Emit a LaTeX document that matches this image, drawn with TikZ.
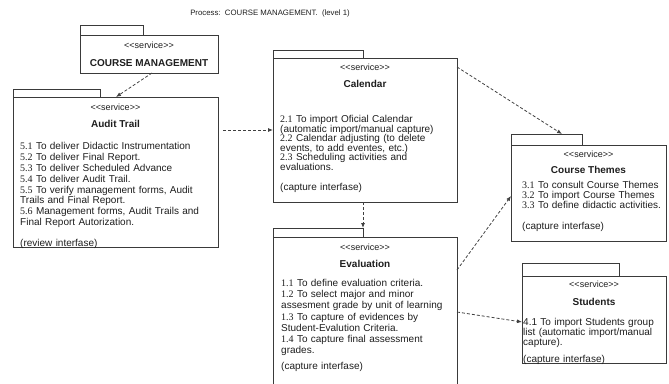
\documentclass[tikz,border=0pt]{standalone}
\usepackage{fontspec}
\setmainfont{Liberation Sans}
\newfontfamily\numf{Liberation Serif}
\usetikzlibrary{arrows.meta,calc}
\definecolor{boxc}{HTML}{3A3A3A}
\definecolor{depc}{HTML}{404040}
\definecolor{txtc}{HTML}{1E1E1E}
\newcommand{\nm}[1]{{\numf #1}}
\tikzset{
  pkg/.style={draw=boxc, line width=0.9pt, inner sep=0pt, outer sep=0pt, anchor=north west},
  stereo/.style={font=\fontsize{9}{10}\selectfont, text=txtc, anchor=base, inner sep=0pt},
  ptitle/.style={font=\bfseries\fontsize{10}{12}\selectfont, text=txtc, anchor=base, inner sep=0pt},
  body/.style={anchor=base west, inner sep=0pt, text=txtc, text width=200pt, align=left},
  dep/.style={draw=depc, dash pattern=on 3pt off 2pt, line width=0.8pt, -{Latex[length=5pt,width=4pt]}},
}
\begin{document}
\begin{tikzpicture}[x=1pt,y=-1pt]
\useasboundingbox (0,0) rectangle (669,383);

\node[font=\fontsize{7.8}{9}\selectfont, text=txtc, anchor=base, inner sep=0pt] (ptitle) at (270,15) {Process:\ \ COURSE MANAGEMENT.\ \ (level 1)};

% COURSE MANAGEMENT
\node[pkg, minimum width=63pt, minimum height=10pt] (cmtab) at (80,25) {};
\node[pkg, minimum width=138pt, minimum height=38pt] (cm) at (80,35) {};
\node[stereo] (cmst) at (149,48) {<{}<service>{}>};
\node[ptitle] (cmti) at (149,66) {COURSE MANAGEMENT};

% Audit Trail
\node[pkg, minimum width=87pt, minimum height=8pt] (attab) at (13,89) {};
\node[pkg, minimum width=205pt, minimum height=150pt] (at) at (13,97) {};
\node[stereo] (atst) at (115.5,110) {<{}<service>{}>};
\node[ptitle] (atti) at (115.5,127) {Audit Trail};
\node[body, font=\fontsize{10}{10.8}\selectfont] (atbody) at (20,149.8) {%
\nm{5.1} To deliver Didactic Instrumentation\\
\nm{5.2} To deliver Final Report.\\
\nm{5.3} To deliver Scheduled Advance\\
\nm{5.4} To deliver Audit Trail.\\
\nm{5.5} To verify management forms, Audit\\
Trails and Final Report.\\
\nm{5.6} Management forms, Audit Trails and\\
Final Report Autorization.};
\node[body, font=\fontsize{10}{10.8}\selectfont] (atif) at (20,246.5) {(review interfase)};

% Calendar
\node[pkg, minimum width=90pt, minimum height=8pt] (caltab) at (273,50) {};
\node[pkg, minimum width=184pt, minimum height=144pt] (cal) at (273,58) {};
\node[stereo] (calst) at (365,70) {<{}<service>{}>};
\node[ptitle] (calti) at (365,87) {Calendar};
\node[body, font=\fontsize{10}{9.5}\selectfont] (calbody) at (280,122.5) {%
\nm{2.1} To import Oficial Calendar\\
(automatic import/manual capture)\\
\nm{2.2} Calendar adjusting (to delete\\
events, to add eventes, etc.)\\
\nm{2.3} Scheduling activities and\\
evaluations.};
\node[body, font=\fontsize{10}{10}\selectfont] (calif) at (280,190.5) {(capture interfase)};

% Evaluation (its lower part runs past the picture's bottom edge)
\node[pkg, minimum width=90pt, minimum height=9pt] (evtab) at (273,228) {};
\begin{scope}
\clip (0,0) rectangle (669,383);
\node[pkg, minimum width=184pt, minimum height=170pt] (ev) at (273,237) {};
\end{scope}
\node[stereo] (evst) at (365,250) {<{}<service>{}>};
\node[ptitle] (evti) at (365,267) {Evaluation};
\node[body, font=\fontsize{10}{11.1}\selectfont] (evbody) at (281,286.7) {%
\nm{1.1} To define evaluation criteria.\\
\nm{1.2} To select major and minor\\
assesment grade by unit of learning\\
\nm{1.3} To capture of evidences by\\
Student-Evalution Criteria.\\
\nm{1.4} To capture final assessment\\
grades.};
\node[body, font=\fontsize{10}{10}\selectfont] (evif) at (281,369.5) {(capture interfase)};

% Course Themes
\node[pkg, minimum width=71pt, minimum height=11pt] (cttab) at (511,134) {};
\node[pkg, minimum width=155pt, minimum height=96pt] (ct) at (511,145) {};
\node[stereo] (ctst) at (588.5,157) {<{}<service>{}>};
\node[ptitle] (ctti) at (588.5,173) {Course Themes};
\node[body, font=\fontsize{10}{10}\selectfont] (ctbody) at (522,188.5) {%
\nm{3.1} To consult Course Themes\\
\nm{3.2} To import Course Themes\\
\nm{3.3} To define didactic activities.};
\node[body, font=\fontsize{10}{10}\selectfont] (ctif) at (522,229.5) {(capture interfase)};

% Students
\node[pkg, minimum width=97pt, minimum height=13pt] (sttab) at (522,263) {};
\node[pkg, minimum width=144pt, minimum height=87pt] (st) at (522,276) {};
\node[stereo] (stst) at (594,287) {<{}<service>{}>};
\node[ptitle] (stti) at (594,305) {Students};
\node[body, font=\fontsize{10}{10.2}\selectfont] (stbody) at (523,325.5) {%
4.1 To import Students group\\
list (automatic import/manual\\
capture).};
\node[body, font=\fontsize{10}{10}\selectfont] (stif) at (523,362) {(capture interfase)};

% dependencies
\draw[dep] ([xshift=72pt]cm.south west) -- ([xshift=103pt]at.north west);
\draw[dep] ([xshift=5pt,yshift=-33pt]at.north east) -- ([yshift=-72pt]cal.north west);
\draw[dep] (caltab.south east |- cal.south) -- (evtab.north east);
\draw[dep] ([yshift=-9pt]cal.north east) -- ([xshift=51pt]cttab.north west);
\draw[dep] ([yshift=-33pt]ev.north east) -- ([yshift=-51pt]ct.north west);
\draw[dep] ([yshift=-75pt]ev.north east) -- ([yshift=-46pt]st.north west);
\end{tikzpicture}
\end{document}
